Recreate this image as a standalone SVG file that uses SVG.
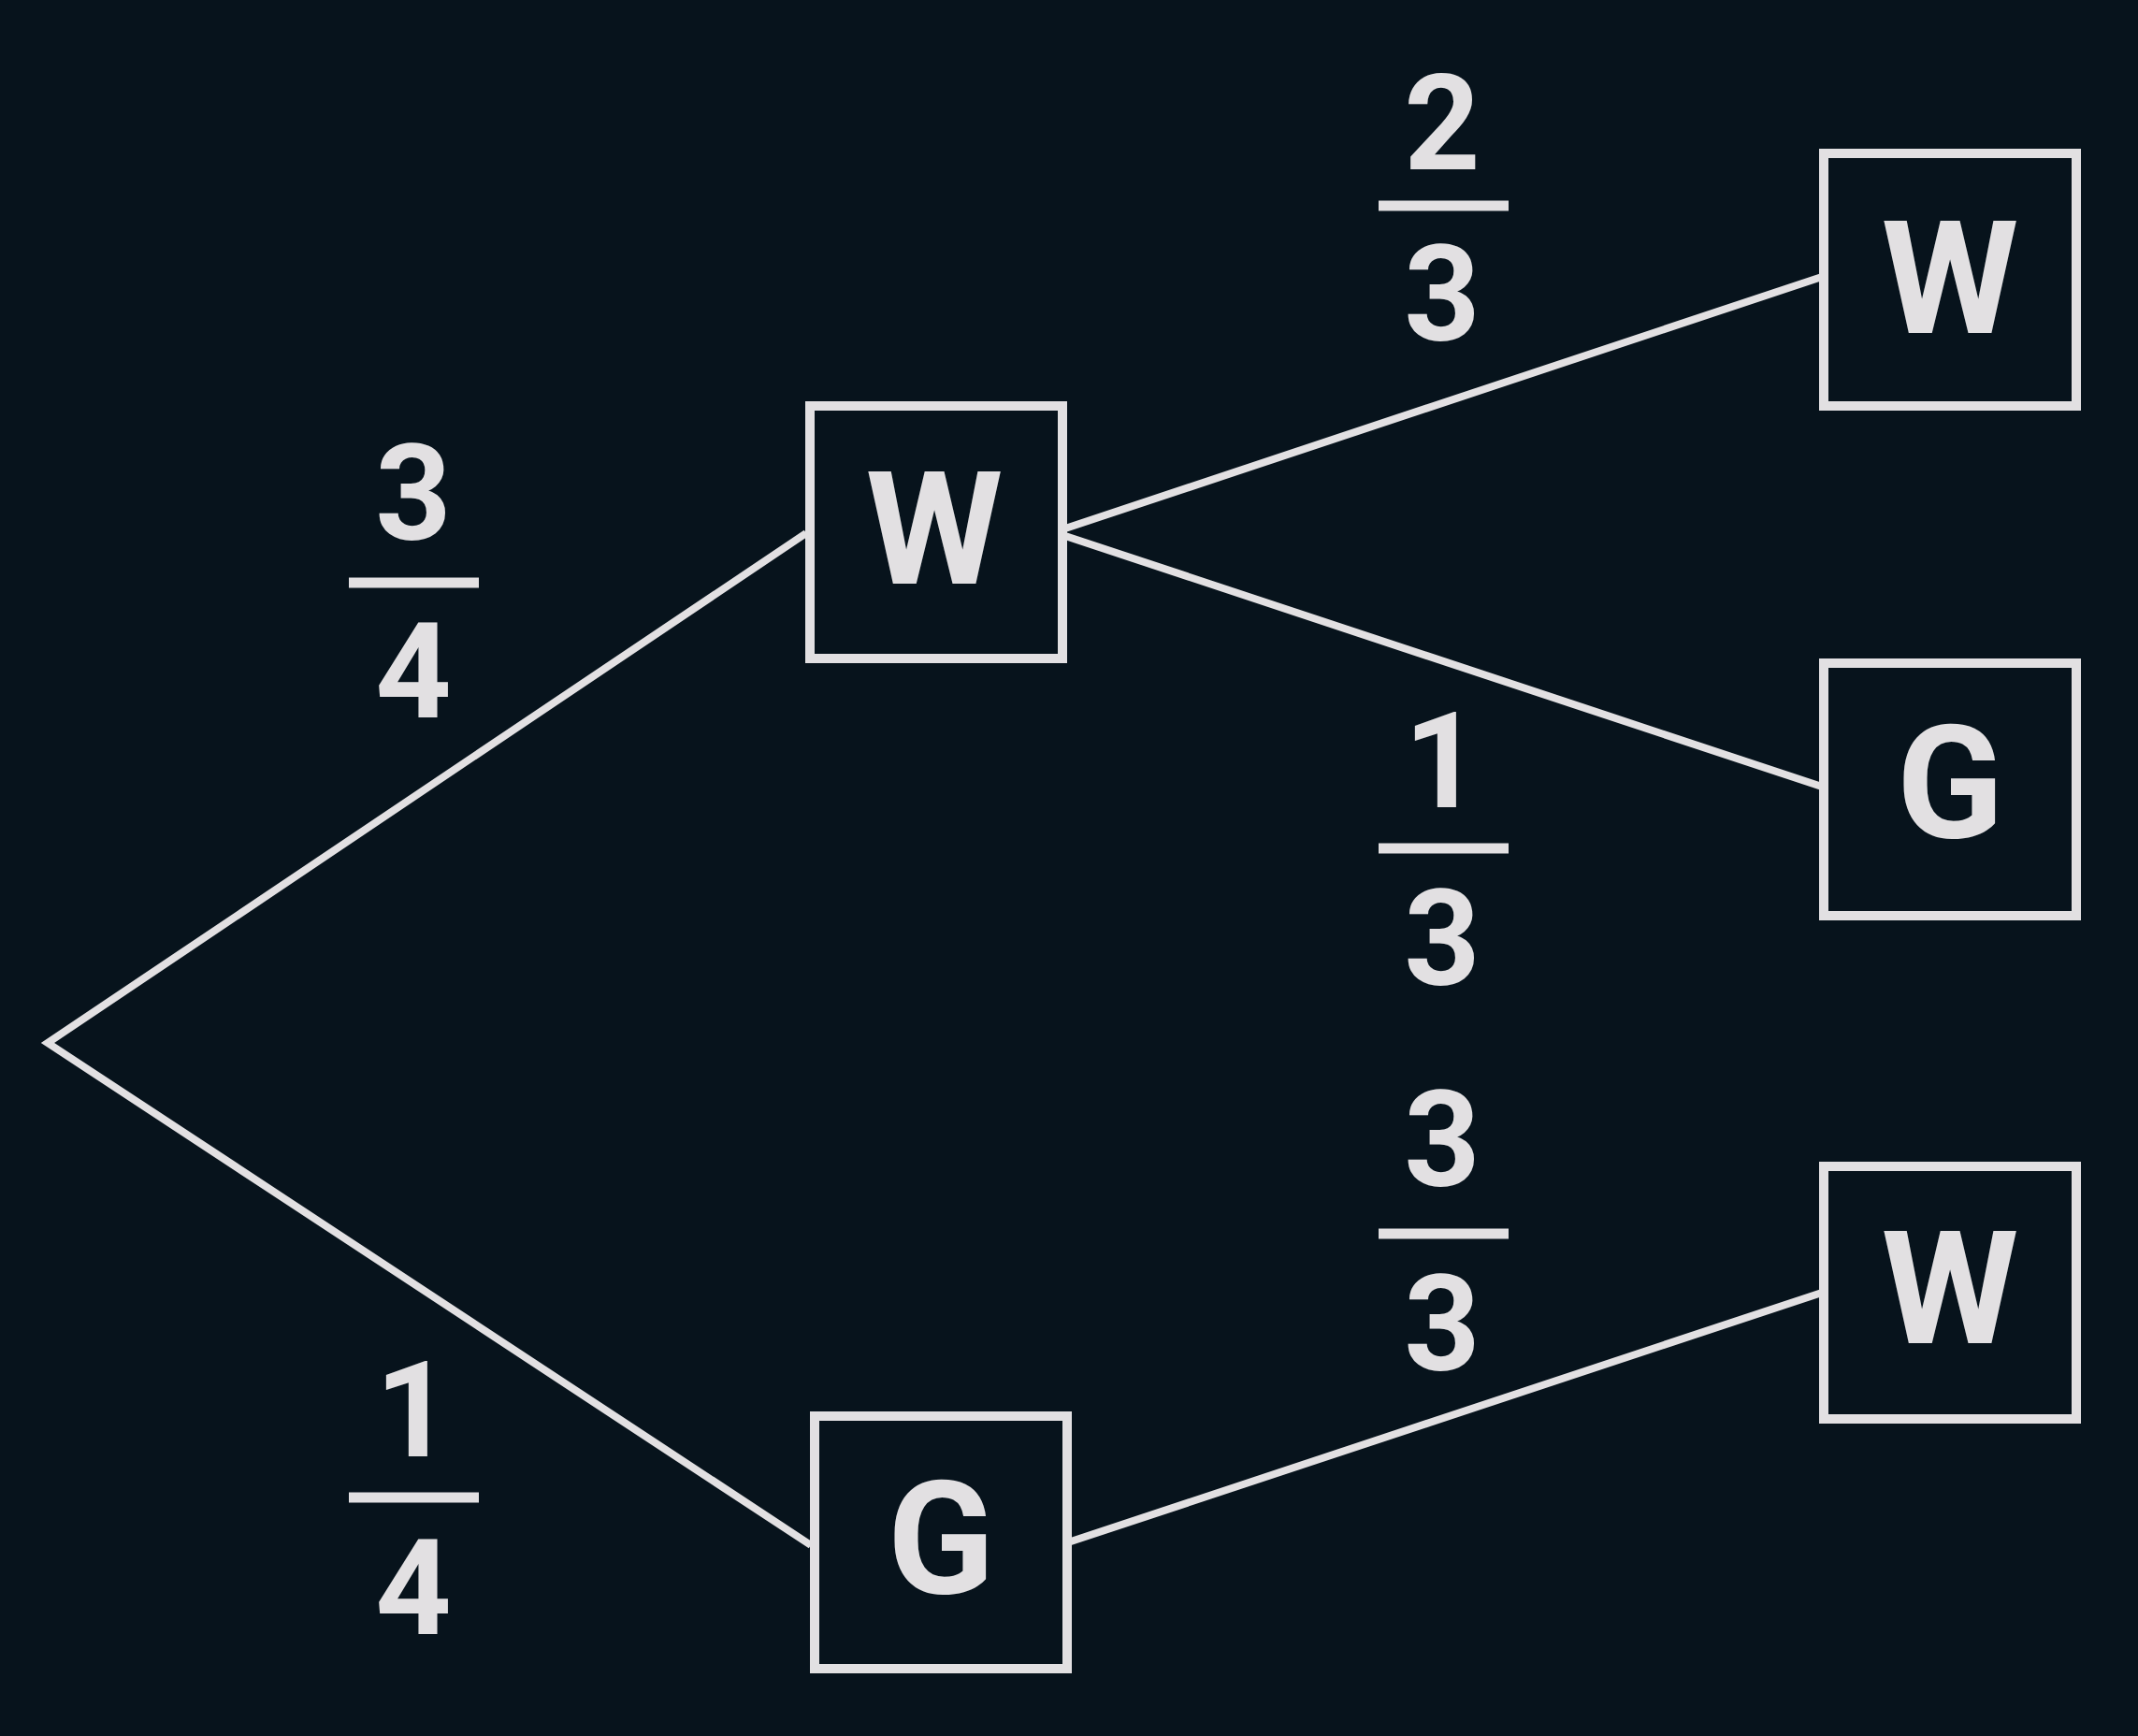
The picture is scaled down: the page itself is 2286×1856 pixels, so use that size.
<svg xmlns="http://www.w3.org/2000/svg" width="2286" height="1856" viewBox="0 0 2286 1856">
<style>
.box{fill:none;stroke:#e2e0e2;stroke-width:10}
.ln{stroke:#e2e0e2;stroke-width:8;fill:none}
.bar{stroke:#e2e0e2;stroke-width:11}
.n{font-family:Roboto,"Liberation Sans",sans-serif;font-weight:bold;font-size:142px;fill:#e2e0e2;text-anchor:middle}
.l{font-family:Roboto,"Liberation Sans",sans-serif;font-weight:bold;font-size:168px;fill:#e2e0e2;text-anchor:middle}
</style>
<rect width="2286" height="1856" fill="#07131c"/>
<g id="connectors">
<polyline class="ln" points="862,570 51,1115 867,1652"/>
<line class="ln" x1="1136" y1="566" x2="1948" y2="296"/>
<line class="ln" x1="1136" y1="572" x2="1948" y2="841"/>
<line class="ln" x1="1142" y1="1649" x2="1948" y2="1382"/>
</g>
<g id="nW"><rect class="box" x="866" y="434" width="270" height="270"/><text class="l" x="999" y="624">W</text></g>
<g id="nG"><rect class="box" x="871" y="1514" width="270" height="270"/><text class="l" x="1006" y="1703">G</text></g>
<g id="nWW"><rect class="box" x="1950" y="164" width="270" height="270"/><text class="l" x="2085" y="356">W</text></g>
<g id="nWG"><rect class="box" x="1950" y="709" width="270" height="270"/><text class="l" x="2085" y="895">G</text></g>
<g id="nGW"><rect class="box" x="1950" y="1247" width="270" height="270"/><text class="l" x="2085" y="1436">W</text></g>
<g id="f34"><text class="n" x="442" y="577">3</text><line class="bar" x1="373" y1="623" x2="512" y2="623"/><text class="n" x="442" y="767">4</text></g>
<g id="f14"><text class="n" x="442" y="1557">1</text><line class="bar" x1="373" y1="1601" x2="512" y2="1601"/><text class="n" x="442" y="1747">4</text></g>
<g id="f23"><text class="n" x="1542" y="181">2</text><line class="bar" x1="1474" y1="220" x2="1613" y2="220"/><text class="n" x="1542" y="364">3</text></g>
<g id="f13"><text class="n" x="1542" y="863">1</text><line class="bar" x1="1474" y1="907" x2="1613" y2="907"/><text class="n" x="1542" y="1053">3</text></g>
<g id="f33"><text class="n" x="1542" y="1268">3</text><line class="bar" x1="1474" y1="1319" x2="1613" y2="1319"/><text class="n" x="1542" y="1465">3</text></g>
</svg>
